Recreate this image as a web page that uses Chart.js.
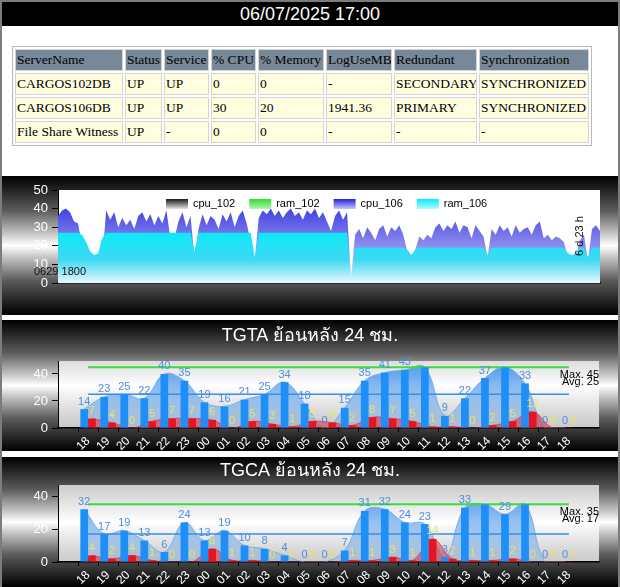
<!DOCTYPE html>
<html>
<head>
<meta charset="utf-8">
<title>DB status</title>
<script src="https://cdn.jsdelivr.net/npm/chart.js@4.4.1/dist/chart.umd.min.js"></script>
<style>
    html, body { margin: 0; padding: 0; background: #fff; }
    #page {
        position: relative; width: 616px; height: 585px; overflow: hidden;
        border: 2px solid #7c7c7c; border-bottom: 0; background: #fff;
        font-family: Arial, "Liberation Sans", sans-serif;
    }
    #stamp {
        position: absolute; left: 0; top: 0; width: 616px; height: 24px;
        background: #000; color: #fff; font-size: 18px; line-height: 24px; text-align: center;
    }
    #servers {
        position: absolute; left: 10px; top: 44px; width: 580px;
        table-layout: fixed; border-collapse: separate; border-spacing: 2px;
        border: 1px solid #b8b8b8;
        font-family: "Liberation Serif", "Times New Roman", serif; font-size: 13.5px; color: #000;
    }
    #servers th, #servers td {
        box-sizing: border-box; height: 22px; padding: 0 1px; border: 1px solid #d4d4d4;
        text-align: left; font-weight: normal; white-space: nowrap; overflow: hidden;
    }
    #servers th { background: #778899; }
    #servers td { background: #ffffe0; }
    .panel {
        position: absolute; left: 0; width: 616px;
        background: linear-gradient(to bottom, #000 0%, #1c1c1c 8%, #5c5c5c 25%, #c8c8c8 42%, #fff 50%, #c8c8c8 58%, #5c5c5c 75%, #1c1c1c 92%, #000 100%);
    }
    .panel canvas { position: absolute; left: 0; top: 0; }
</style>
</head>
<body>
<div id="page">
    <div id="stamp">06/07/2025 17:00</div>
    <table id="servers"></table>
    <div class="panel" style="top:174px;height:139px"><canvas id="trend" width="616" height="139"></canvas></div>
    <div class="panel" style="top:318px;height:131px"><canvas id="tgta" width="616" height="131"></canvas></div>
    <div class="panel" style="top:455px;height:130px"><canvas id="tgca" width="616" height="130"></canvas></div>
</div>
<script>
// status table
const serverCols = ['ServerName', 'Status', 'Service', '% CPU', '% Memory', 'LogUseMB', 'Redundant', 'Synchronization'];
const serverColWidths = [108, 37, 45, 45, 66, 66, 83, 110];
const serverRows = [
    ['CARGOS102DB', 'UP', 'UP', '0', '0', '-', 'SECONDARY', 'SYNCHRONIZED'],
    ['CARGOS106DB', 'UP', 'UP', '30', '20', '1941.36', 'PRIMARY', 'SYNCHRONIZED'],
    ['File Share Witness', 'UP', '-', '0', '0', '-', '-', '-']
];

// cpu / ram trend, one point per sample
const cpu106 = [
    36, 39, 40, 38, 33, 32,
    20, 10, 10, 10, 10, 12,
    39, 34, 38, 30, 35, 31, 34, 29, 36, 38, 33, 37, 31, 36, 32, 39,
    24, 24,
    33, 38, 30, 36, 14, 29, 37, 31, 36, 34, 29, 37, 33, 38, 30, 36, 39, 32,
    22, 12,
    35, 39, 37, 40, 36, 39, 35, 38, 40, 36, 38, 34, 39, 37, 40, 35, 38, 33, 28, 36, 39, 34, 38,
    3,
    26, 29, 24, 30, 27, 23, 29, 31, 25, 30, 28, 31, 26,
    17, 12, 18,
    25, 23, 26, 24, 30, 32, 28, 31, 29, 33, 27, 31, 30, 24, 31, 28, 25,
    14,
    29, 26, 31, 28, 30, 25, 31, 27, 29, 30, 26, 31, 33, 24, 26, 23, 25, 24, 22,
    14, 12, 14,
    23, 26,
    12,
    29, 31, 28
];
const ram106 = [
    27, 27, 27, 27, 27, 27,
    26, 22, 17, 15, 16, 24,
    27, 27, 27, 27, 27, 27, 27, 27, 27, 27, 27, 27, 27, 27, 27, 27, 27, 27, 27, 27, 27, 27,
    17,
    27, 27, 27, 27, 27, 27, 27, 27, 27, 27, 27, 27, 27, 27,
    14,
    27, 27, 27, 27, 27, 27, 27, 27, 27, 27, 27, 27, 27, 27, 27, 27, 27, 27, 27, 27, 27, 27, 27,
    3,
    19, 19, 19, 19, 19, 19, 19, 19, 19, 19, 19, 19, 19,
    18, 15, 18,
    19, 19, 19, 19, 19, 19, 19, 19, 19, 19, 19, 19, 19, 19, 19, 19, 19,
    15,
    19, 19, 19, 19, 19, 19, 19, 19, 19, 19, 19, 19, 19, 19, 19, 19, 19, 19, 19,
    16, 15, 16,
    19, 19,
    14,
    19, 19, 19
];
const cpu102 = [];
const ram102 = [];
const trendStart = '0629 1800';
const trendSpan = '6 d 23 h';

// hourly counts, last 24 h
const hours = ['18', '19', '20', '21', '22', '23', '00', '01', '02', '03', '04', '05', '06',
    '07', '08', '09', '10', '11', '12', '13', '14', '15', '16', '17', '18'];
const tgtaCount = [14, 23, 25, 22, 40, 35, 19, 16, 21, 25, 34, 18, 0, 15, 35, 41, 43, 45, 9, 22, 37, 45, 33, 0, 0];
const tgtaFail = [7, 4, 0, 5, 7, 7, 6, 0, 5, 3, 1, 5, 4, 2, 8, 7, 5, 1, 1, 0, 2, 5, 12, 0, 0];
const tgtaMax = 45;
const tgtaAvg = 25;
const tgcaCount = [32, 17, 19, 13, 6, 24, 13, 19, 10, 8, 4, 0, 0, 7, 31, 32, 24, 23, 3, 33, 35, 29, 35, 0, 0];
const tgcaFail = [4, 2, 4, 1, 0, 0, 8, 1, 1, 0, 0, 0, 0, 1, 1, 3, 1, 14, 2, 1, 1, 2, 0, 0, 0];
const tgcaMax = 35;
const tgcaAvg = 17;

// build the table
const table = document.getElementById('servers');
const headRow = table.insertRow();
serverCols.forEach((name, i) => {
    const th = document.createElement('th');
    th.textContent = name;
    th.style.width = serverColWidths[i] + 'px';
    headRow.appendChild(th);
});
serverRows.forEach(row => {
    const tr = table.insertRow();
    row.forEach(val => { tr.insertCell().textContent = val; });
});

Chart.defaults.font.family = 'Arial, "Liberation Sans", sans-serif';

const vGrad = (stops) => (ctx) => {
    const area = ctx.chart.chartArea;
    if (!area) return stops[0][1];
    const g = ctx.chart.ctx.createLinearGradient(0, area.top, 0, area.bottom);
    stops.forEach(([p, c]) => g.addColorStop(p, c));
    return g;
};

const plotFill = {
    id: 'plotFill',
    beforeDraw(chart, args, opts) {
        const { ctx, chartArea: a } = chart;
        ctx.save();
        ctx.fillStyle = opts.color;
        ctx.fillRect(a.left, a.top, a.width, a.height);
        ctx.restore();
    }
};

// legend drawn inside the plot with gradient swatches
const insideLegend = {
    id: 'insideLegend',
    afterDatasetsDraw(chart) {
        const { ctx, chartArea } = chart;
        ctx.save();
        ctx.font = '11px Arial, "Liberation Sans", sans-serif';
        ctx.textBaseline = 'middle';
        let x = chartArea.left + 108;
        const y = chartArea.top + 9;
        chart.data.datasets.forEach(ds => {
            const g = ctx.createLinearGradient(0, y, 0, y + 10);
            g.addColorStop(0, ds.swatch[0]);
            g.addColorStop(1, ds.swatch[1]);
            ctx.fillStyle = g;
            ctx.fillRect(x, y, 22, 10);
            ctx.fillStyle = '#000';
            ctx.fillText(ds.label, x + 27, y + 5);
            x += 27 + ctx.measureText(ds.label).width + 14;
        });
        // start time and span notes
        ctx.fillStyle = '#111';
        ctx.fillText(trendStart, chartArea.left - 24, chartArea.bottom - 11);
        ctx.translate(chartArea.right - 20, chartArea.top + 46);
        ctx.rotate(-Math.PI / 2);
        ctx.textAlign = 'center';
        ctx.fillText(trendSpan, 0, 0);
        ctx.restore();
    }
};

new Chart(document.getElementById('trend'), {
    type: 'line',
    data: {
        labels: cpu106.map((v, i) => i),
        datasets: [
            { label: 'cpu_102', data: cpu102, swatch: ['#1a1a1a', '#e4e4e4'], order: 3 },
            { label: 'ram_102', data: ram102, swatch: ['#2fdc2f', '#b4f4b4'], order: 2 },
            {
                label: 'cpu_106', data: cpu106, swatch: ['#2020e0', '#c8c8f8'], order: 1,
                fill: 'origin',
                backgroundColor: vGrad([[0, '#1f1fdc'], [0.6, '#8c8cee'], [1, '#f2f2ff']])
            },
            {
                label: 'ram_106', data: ram106, swatch: ['#00eeff', '#b8f8ff'], order: 0,
                fill: 'origin',
                backgroundColor: vGrad([[0, '#00f0ff'], [0.45, '#0ceaf9'], [0.75, '#3ed8f2'], [1, '#e8f8ff']])
            }
        ]
    },
    options: {
        responsive: false,
        animation: false,
        devicePixelRatio: 1,
        elements: { line: { borderWidth: 0, tension: 0 }, point: { radius: 0 } },
        layout: { padding: { top: 14, right: 18, bottom: 32, left: 0 } },
        plugins: { legend: { display: false }, tooltip: { enabled: false }, plotFill: { color: '#fff' } },
        scales: {
            x: {
                grid: { display: false },
                ticks: { display: false },
                border: { color: '#000', width: 1.5 },
                afterFit: s => { s.height = 0; }
            },
            y: {
                min: 0, max: 50,
                ticks: { stepSize: 10, color: '#fff', font: { size: 13 }, padding: 4 },
                grid: { drawOnChartArea: false, tickLength: 6, color: '#000' },
                border: { color: '#000' },
                afterFit: s => { s.width = 56; }
            }
        }
    },
    plugins: [plotFill, insideLegend]
});

// bar value labels plus the max / avg notes
const valueLabels = {
    id: 'valueLabels',
    afterDatasetsDraw(chart, args, opts) {
        const { ctx, chartArea } = chart;
        ctx.save();
        ctx.font = '11px Arial, "Liberation Sans", sans-serif';
        ctx.textAlign = 'center';
        ctx.textBaseline = 'bottom';
        chart.data.datasets.forEach((ds, di) => {
            if (!ds.labelColor) return;
            chart.getDatasetMeta(di).data.forEach((bar, i) => {
                const v = ds.data[i].y;
                if (v === ds.hideLabelAt) return;
                ctx.fillStyle = ds.labelColor;
                ctx.fillText(String(v), bar.x, bar.y - 2);
            });
        });
        const yMax = chart.scales.y.getPixelForValue(opts.max);
        ctx.fillStyle = '#000';
        ctx.textAlign = 'right';
        ctx.textBaseline = 'middle';
        ctx.fillText('Max. ' + opts.max, chartArea.right, yMax + 8);
        ctx.fillText('Avg. ' + opts.avg, chartArea.right, yMax + 15);
        ctx.restore();
    }
};

const catPct = 0.77;
const barShift = catPct / 4;

function hourChart(id, title, counts, fails, maxV, avgV, yTop, titlePad, axisH) {
    const last = hours.length - 1;
    return new Chart(document.getElementById(id), {
        type: 'bar',
        data: {
            datasets: [
                {
                    type: 'bar', label: 'count', order: 1,
                    data: counts.map((v, i) => ({ x: i, y: v })),
                    backgroundColor: '#1e8ff6',
                    labelColor: '#4a8fe0', hideLabelAt: maxV
                },
                {
                    type: 'bar', label: 'fail', order: 2,
                    data: fails.map((v, i) => ({ x: i, y: v })),
                    backgroundColor: '#e8141e',
                    labelColor: '#e6e46c'
                },
                {
                    type: 'line', label: 'max', order: 3,
                    data: [{ x: 0, y: maxV }, { x: last, y: maxV }],
                    borderColor: '#3ddc3d', borderWidth: 2
                },
                {
                    type: 'line', label: 'avg', order: 4,
                    data: [{ x: 0, y: avgV }, { x: last, y: avgV }],
                    borderColor: '#3a8ee6', borderWidth: 1.5
                },
                {
                    type: 'line', label: 'fail trend', order: 5,
                    data: fails.map((v, i) => ({ x: i + barShift, y: v })),
                    fill: 'origin', tension: 0.4,
                    backgroundColor: 'rgba(228, 28, 48, 0.5)',
                    borderColor: 'rgba(228, 28, 48, 0.55)', borderWidth: 1
                },
                {
                    type: 'line', label: 'count trend', order: 6,
                    data: counts.map((v, i) => ({ x: i - barShift, y: v })),
                    fill: 'origin', tension: 0.4,
                    backgroundColor: vGrad([[0, 'rgba(66, 146, 236, 0.9)'], [1, 'rgba(66, 146, 236, 0.2)']]),
                    borderColor: 'rgba(110, 172, 238, 0.9)', borderWidth: 1
                }
            ]
        },
        options: {
            responsive: false,
            animation: false,
            devicePixelRatio: 1,
            categoryPercentage: catPct,
            barPercentage: 1,
            elements: { point: { radius: 0 } },
            layout: { padding: 0 },
            plugins: {
                legend: { display: false },
                tooltip: { enabled: false },
                plotFill: { color: 'rgba(255, 255, 255, 0.72)' },
                valueLabels: { max: maxV, avg: avgV },
                title: {
                    display: true, text: title, color: '#fff',
                    font: { size: 18, weight: 'normal' },
                    padding: titlePad
                }
            },
            scales: {
                x: {
                    type: 'linear', min: -1, max: hours.length,
                    ticks: {
                        stepSize: 1, autoSkip: false, color: '#fff', font: { size: 12 },
                        maxRotation: 45, minRotation: 45, padding: 2,
                        callback: v => hours[v] ?? ''
                    },
                    grid: {
                        drawOnChartArea: false, tickLength: 4,
                        color: c => (c.tick && hours[c.tick.value] !== undefined) ? '#000' : 'rgba(0,0,0,0)'
                    },
                    border: { color: '#000', width: 1.5 },
                    afterFit: s => { s.height = axisH; }
                },
                y: {
                    min: 0, max: yTop,
                    ticks: { stepSize: 20, includeBounds: false, color: '#fff', font: { size: 13 }, padding: 4 },
                    grid: { drawOnChartArea: false, tickLength: 6, color: '#000' },
                    border: { color: '#000' },
                    afterFit: s => { s.width = 56; }
                },
                pad: {
                    type: 'linear', position: 'right',
                    grid: { display: false }, ticks: { display: false }, border: { display: false },
                    afterFit: s => { s.width = 19; }
                }
            }
        },
        plugins: [plotFill, valueLabels]
    });
}

hourChart('tgta', 'TGTA ย้อนหลัง 24 ชม.', tgtaCount, tgtaFail, tgtaMax, tgtaAvg, 49.6, { top: 5, bottom: 14.4 }, 23);
hourChart('tgca', 'TGCA ย้อนหลัง 24 ชม.', tgcaCount, tgcaFail, tgcaMax, tgcaAvg, 46.7, { top: 3, bottom: 3.4 }, 25);
</script>
</body>
</html>
